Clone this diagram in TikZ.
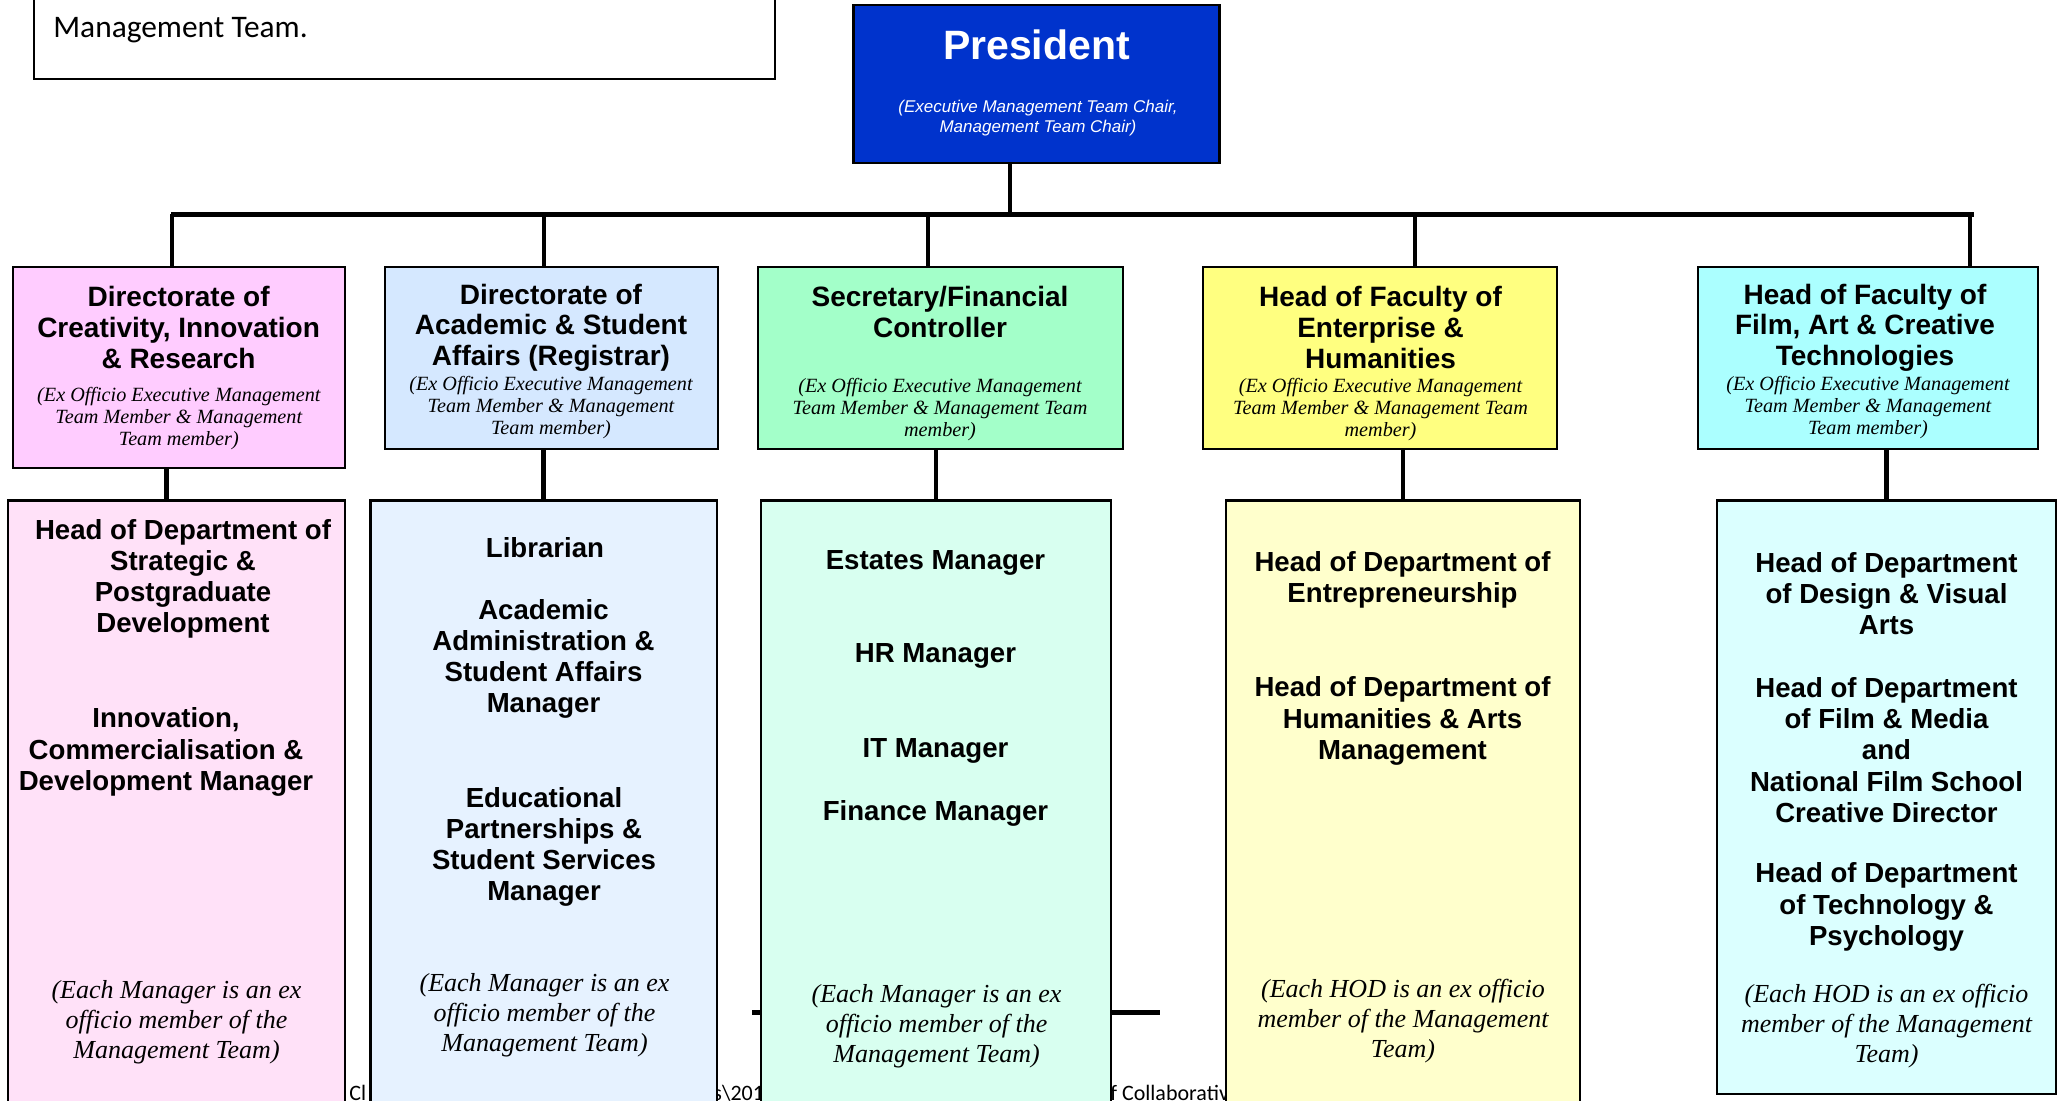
\documentclass[tikz,border=0pt]{standalone}
\usepackage{fontspec}
\setmainfont{Liberation Serif}
\setsansfont{Liberation Sans}
\newfontfamily\notefont{Carlito}
\usetikzlibrary{positioning}

\definecolor{presblue}{HTML}{0033CC}
\definecolor{dirpink}{HTML}{FFCCFF}
\definecolor{dirblue}{HTML}{D5E8FF}
\definecolor{dirgreen}{HTML}{A3FFC9}
\definecolor{diryellow}{HTML}{FFFF80}
\definecolor{dircyan}{HTML}{ABFFFF}
\definecolor{deptpink}{HTML}{FFE1F8}
\definecolor{deptblue}{HTML}{E6F2FF}
\definecolor{deptgreen}{HTML}{D8FFF0}
\definecolor{deptyellow}{HTML}{FFFFCC}
\definecolor{deptcyan}{HTML}{DBFFFF}

\begin{document}
\begin{tikzpicture}[
x=0.5pt,y=-0.5pt,
headbox/.style={
	draw,
	line width=1.3pt,
	inner sep=0pt,
	minimum height=91pt
},
deptbox/.style={
	draw,
	line width=1.1pt,
	inner sep=0pt,
	minimum height=314.75pt
},
title/.style={
	align=center,
	inner sep=0pt,
	font=\sffamily\bfseries\fontsize{14}{15.3}\selectfont
},
remark/.style={
	align=center,
	inner sep=0pt,
	font=\itshape\fontsize{10.1}{11}\selectfont
},
post/.style={
	align=center,
	inner sep=0pt,
	font=\sffamily\bfseries\fontsize{13.8}{15.6}\selectfont
},
note/.style={
	align=center,
	inner sep=0pt,
	font=\itshape\fontsize{13}{15}\selectfont
},
foot/.style={
	anchor=base west,
	inner sep=0pt,
	font=\notefont\fontsize{11}{13}\selectfont
},
link/.style={
	line width=1.8pt
},
drop/.style={
	line width=2.3pt
}
]
\clip (0,0) rectangle (2060,1101);

\node[foot] (f1) at (349,1100) {Cl};
\node[foot] (f2) at (713,1100) {s\textbackslash 201};
\node[foot] (f3) at (1110,1100) {f Collaborativ};

\coordinate (s1) at (752,1012);
\coordinate (s2) at (1160,1012);
\draw[line width=2.5pt] (s1) -- (s2);

\node[draw, line width=1pt, fill=white, minimum width=370.75pt, minimum height=49.5pt, inner sep=0pt] 
(memo) at (404.25,29.5) {};
\node[anchor=base west, inner sep=0pt, font=\notefont\fontsize{15.7}{18}\selectfont] 
(memo-t) at (53,38) {Management Team.};

\node[draw, line width=1.3pt, fill=presblue, minimum width=183pt, minimum height=79pt, inner sep=0pt] 
(pres) at (1036.5,84) {};
\node[inner sep=0pt, text=white, font=\sffamily\bfseries\fontsize{20.5}{24}\selectfont] 
(pres-t) at (1036.5,45) {President};
\node[align=center, inner sep=0pt, text=white, font=\sffamily\itshape\fontsize{8.5}{10}\selectfont] 
(pres-s) at (1038,118) {(Executive Management Team Chair,\\Management Team Chair)};

\node[headbox, fill=dirpink, minimum width=166pt, minimum height=100.5pt] 
(d1) at (179,367.5) {};
\node[headbox, fill=dirblue, minimum width=166.5pt] 
(d2) at (551.5,358) {};
\node[headbox, fill=dirgreen, minimum width=182.5pt] 
(d3) at (940.5,358) {};
\node[headbox, fill=diryellow, minimum width=177pt] 
(d4) at (1380,358) {};
\node[headbox, fill=dircyan, minimum width=170pt] 
(d5) at (1868,358) {};

\node[deptbox, fill=deptpink, minimum width=168.5pt] 
(m1) at (176.5,815.25) {};
\node[deptbox, fill=deptblue, minimum width=173.25pt] 
(m2) at (543.75,815.25) {};
\node[deptbox, fill=deptgreen, minimum width=175pt] 
(m3) at (936,815.25) {};
\node[deptbox, fill=deptyellow, minimum width=177pt] 
(m4) at (1403,815.25) {};
\node[deptbox, fill=deptcyan, minimum width=169.5pt, minimum height=296.75pt] 
(m5) at (1886.5,797.25) {};

\coordinate (pd) at (1010,214.5);
\coordinate (j1) at (172,214.5);
\coordinate (j2) at (544,214.5);
\coordinate (j3) at (928,214.5);
\coordinate (j4) at (1415,214.5);
\coordinate (j5) at (1970,214.5);
\draw[line width=2.8pt] ([xshift=-0.5pt]j1) -- ([xshift=2pt]j5);
\draw[link] (pres.south -| pd) -- (pd);
\draw[link] (j1) -- (j1 |- d1.north);
\draw[link] (j2) -- (j2 |- d2.north);
\draw[link] (j3) -- (j3 |- d3.north);
\draw[link] (j4) -- (j4 |- d4.north);
\draw[link] (j5) -- (j5 |- d5.north);

\draw[drop] ([xshift=-5pt]m1.north) -- ([xshift=-5pt]m1.north |- d1.south);
\draw[drop] (m2.north) -- (m2.north |- d2.south);
\draw[drop] (m3.north) -- (m3.north |- d3.south);
\draw[drop] (m4.north) -- (m4.north |- d4.south);
\draw[drop] (m5.north) -- (m5.north |- d5.south);

\node[title] (d1-t) at (178.6,327.5) {Directorate of\\Creativity, Innovation\\\& Research};
\node[remark] (d1-s) at (178.8,419) {(Ex Officio Executive Management\\Team Member \& Management\\Team member)};
\node[title] (d2-t) at (551,327.5) {Directorate of\\Academic \& Student\\Affairs (Registrar)};
\node[remark] (d2-s) at (551,408) {(Ex Officio Executive Management\\Team Member \& Management\\Team member)};
\node[title] (d3-t) at (940,312) {Secretary/Financial\\Controller};
\node[remark] (d3-s) at (940,409.5) {(Ex Officio Executive Management\\Team Member \& Management Team\\member)};
\node[title] (d4-t) at (1380.5,327.5) {Head of Faculty of\\Enterprise \&\\Humanities};
\node[remark] (d4-s) at (1380.5,409.5) {(Ex Officio Executive Management\\Team Member \& Management Team\\member)};
\node[title] (d5-t) at (1865,327.5) {Head of Faculty of\\Film, Art \& Creative\\Technologies};
\node[remark] (d5-s) at (1868,408) {(Ex Officio Executive Management\\Team Member \& Management\\Team member)};

\node[post] (m1-a) at (183,579) {Head of Department of\\Strategic \&\\Postgraduate\\Development};
\node[post] (m1-b) at (166,752) {Innovation,\\Commercialisation \&\\Development Manager};
\node[note] (m1-n) at (176.5,1022) {(Each Manager is an ex\\officio member of the\\Management Team)};

\node[post] (m2-a) at (545,548) {Librarian};
\node[post] (m2-b) at (543.5,659) {Academic\\Administration \&\\Student Affairs\\Manager};
\node[post] (m2-c) at (544,847) {Educational\\Partnerships \&\\Student Services\\Manager};
\node[note] (m2-n) at (544.5,1015.5) {(Each Manager is an ex\\officio member of the\\Management Team)};

\node[post] (m3-a) at (935.5,563) {Estates Manager};
\node[post] (m3-b) at (935.5,656) {HR Manager};
\node[post] (m3-c) at (935.5,751) {IT Manager};
\node[post] (m3-d) at (935.5,813) {Finance Manager};
\node[note] (m3-n) at (936.6,1026) {(Each Manager is an ex\\officio member of the\\Management Team)};

\node[post] (m4-a) at (1402.5,580) {Head of Department of\\Entrepreneurship};
\node[post] (m4-b) at (1402.5,721) {Head of Department of\\Humanities \& Arts\\Management};
\node[note] (m4-n) at (1403,1021) {(Each HOD is an ex officio\\member of the Management\\Team)};

\node[post] (m5-a) at (1886.5,593.5) {Head of Department\\of Design \& Visual\\Arts};
\node[post] (m5-b) at (1886.5,750) {Head of Department\\of Film \& Media\\and\\National Film School\\Creative Director};
\node[post] (m5-c) at (1886.5,907) {Head of Department\\of Technology \&\\Psychology};
\node[note] (m5-n) at (1886.5,1026) {(Each HOD is an ex officio\\member of the Management\\Team)};

\end{tikzpicture}
\end{document}
